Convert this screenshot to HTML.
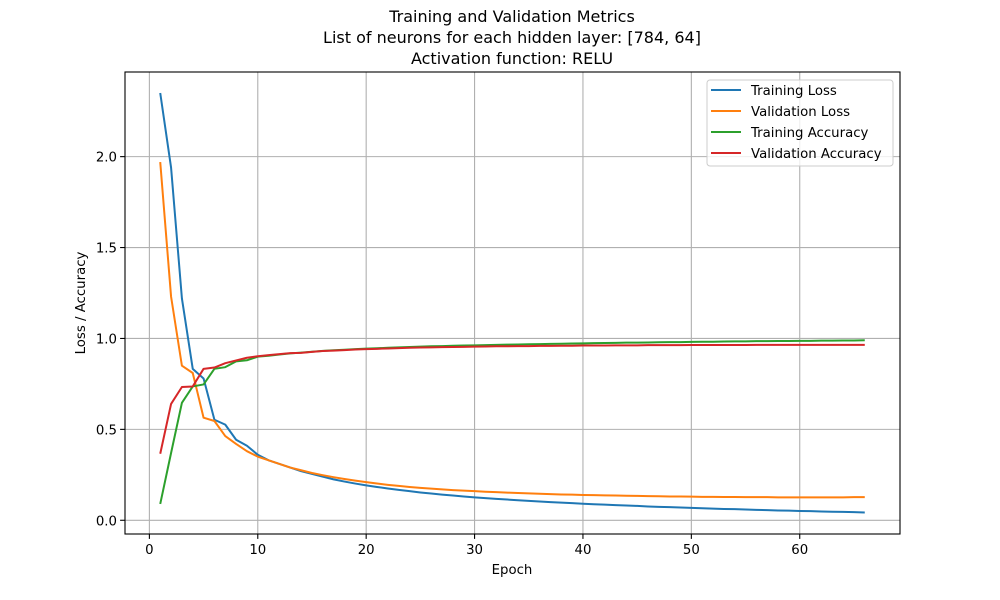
<!DOCTYPE html>
<html><head><meta charset="utf-8">
<style>
body{margin:0;background:#fff;}
svg{display:block;font-family:"DejaVu Sans","Liberation Sans",sans-serif;}
</style></head>
<body>
<svg id="chart" width="1000" height="600" viewBox="0 0 1000 600" xmlns="http://www.w3.org/2000/svg">
<rect width="1000" height="600" fill="#fff"/>
<g font-size="16" text-anchor="middle" fill="#000">
<text x="512" y="22">Training and Validation Metrics</text>
<text x="512" y="43">List of neurons for each hidden layer: [784, 64]</text>
<text x="512" y="64">Activation function: RELU</text>
</g>
<g id="grid"></g>
<g id="series"></g>
<rect x="125" y="72" width="775" height="462" fill="none" stroke="#000" stroke-width="1.1"/>
<g id="xticks"></g>
<g id="yticks"></g>
<text x="512" y="574" font-size="13.3" text-anchor="middle">Epoch</text>
<text x="0" y="0" font-size="13.3" text-anchor="middle" transform="translate(85,303) rotate(-90)">Loss / Accuracy</text>
<g id="legend">
<rect x="707" y="80" width="186" height="86" rx="3" fill="#fff" fill-opacity="0.8" stroke="#ccc"/>
</g>
</svg>
<script>
const trainLoss=[2.35,1.94,1.22,0.833,0.78,0.553,0.526,0.443,0.41,0.36,
0.33,0.31,0.29,0.27,0.255,0.24,0.225,0.213,0.202,0.192,
0.183,0.175,0.167,0.16,0.153,0.147,0.141,0.136,0.131,0.126,
0.122,0.118,0.114,0.110,0.107,0.103,0.100,0.097,0.094,0.091,
0.088,0.086,0.083,0.081,0.079,0.076,0.074,0.072,0.070,0.068,
0.066,0.064,0.062,0.061,0.059,0.057,0.056,0.054,0.053,0.051,
0.050,0.048,0.047,0.046,0.045,0.043];
const valLoss=[1.97,1.23,0.85,0.81,0.564,0.546,0.463,0.42,0.38,0.35,
0.33,0.31,0.29,0.275,0.26,0.248,0.237,0.227,0.218,0.21,
0.202,0.195,0.189,0.183,0.178,0.174,0.170,0.166,0.163,0.160,
0.157,0.155,0.152,0.150,0.148,0.146,0.144,0.142,0.141,0.139,
0.138,0.137,0.136,0.135,0.134,0.133,0.132,0.131,0.131,0.130,
0.129,0.129,0.128,0.128,0.127,0.127,0.127,0.126,0.126,0.126,
0.126,0.126,0.126,0.126,0.127,0.127];
const trainAcc=[0.09,0.37,0.646,0.736,0.747,0.833,0.842,0.874,0.88,0.90,
0.905,0.912,0.918,0.922,0.927,0.932,0.935,0.938,0.941,0.944,
0.946,0.949,0.951,0.953,0.955,0.957,0.958,0.96,0.961,0.962,
0.963,0.965,0.966,0.967,0.968,0.969,0.97,0.971,0.972,0.973,
0.974,0.975,0.976,0.977,0.977,0.978,0.979,0.98,0.98,0.981,
0.982,0.982,0.983,0.984,0.984,0.985,0.985,0.986,0.986,0.987,
0.987,0.988,0.988,0.989,0.989,0.99];
const valAcc=[0.366,0.64,0.733,0.736,0.833,0.84,0.864,0.879,0.894,0.902,
0.908,0.914,0.919,0.921,0.926,0.931,0.933,0.936,0.939,0.941,
0.943,0.945,0.947,0.949,0.95,0.951,0.952,0.953,0.954,0.955,
0.956,0.957,0.957,0.958,0.958,0.959,0.959,0.96,0.96,0.961,
0.961,0.961,0.962,0.962,0.962,0.963,0.963,0.963,0.963,0.964,
0.964,0.964,0.964,0.964,0.964,0.965,0.965,0.965,0.965,0.965,
0.965,0.965,0.965,0.965,0.965,0.965];
const xTickVals=[0,10,20,30,40,50,60];
const yTickVals=[0.0,0.5,1.0,1.5,2.0];
const yTickLabels=["0.0","0.5","1.0","1.5","2.0"];
const seriesNames=["Training Loss","Validation Loss","Training Accuracy","Validation Accuracy"];

const NS="http://www.w3.org/2000/svg";
const L=125,R=900,T=72,B=534;
const xMin=-2.25,xMax=69.25,yMin=-0.0755,yMax=2.4655;
function xs(v){return L+(v-xMin)/(xMax-xMin)*(R-L);}
function ys(v){return B-(v-yMin)/(yMax-yMin)*(B-T);}
function mk(tag,attrs,parent){const e=document.createElementNS(NS,tag);for(const k in attrs)e.setAttribute(k,attrs[k]);parent.appendChild(e);return e;}
const grid=document.getElementById('grid'),xt=document.getElementById('xticks'),yt=document.getElementById('yticks');
xTickVals.forEach(v=>{
  const x=xs(v);
  const g=mk('line',{x1:x,x2:x,y1:T,y2:B,stroke:'#b0b0b0','stroke-width':1.1},grid);
  
  
  const t=mk('line',{x1:x,x2:x,y1:B,y2:B+4.9,stroke:'#000','stroke-width':1.1},xt);
  
  
  const l=mk('text',{x:x,y:B+20,'font-size':13.3,'text-anchor':'middle'},xt);
  l.textContent=String(v);
  
  
});
yTickVals.forEach((v,i)=>{
  const y=ys(v);
  const g=mk('line',{x1:L,x2:R,y1:y,y2:y,stroke:'#b0b0b0','stroke-width':1.1},grid);
  
  
  const t=mk('line',{x1:L-4.9,x2:L,y1:y,y2:y,stroke:'#000','stroke-width':1.1},yt);
  
  
  const l=mk('text',{x:L-8,y:y+5,'font-size':13.3,'text-anchor':'end'},yt);
  l.textContent=yTickLabels[i];
  
  
});
const colors=['#1f77b4','#ff7f0e','#2ca02c','#d62728'];
const data=[trainLoss,valLoss,trainAcc,valAcc];
const sg=document.getElementById('series');
const lineNames=['training-loss-line','validation-loss-line','training-accuracy-line','validation-accuracy-line'];
data.forEach((arr,si)=>{
  const pts=arr.map((v,i)=>xs(i+1).toFixed(2)+','+ys(v).toFixed(2)).join(' ');
  const p=mk('polyline',{points:pts,fill:'none',stroke:colors[si],'stroke-width':2,'stroke-linejoin':'round'},sg);
  
  
});
const lg=document.getElementById('legend');
seriesNames.forEach((n,i)=>{
  const y=90+i*21;
  const e=mk('g',{},lg);
  
  
  mk('line',{x1:711,x2:741,y1:y,y2:y,stroke:colors[i],'stroke-width':2},e);
  const t=mk('text',{x:751,y:y+5,'font-size':13.3},e);
  t.textContent=n;
});
</script>
</body></html>
